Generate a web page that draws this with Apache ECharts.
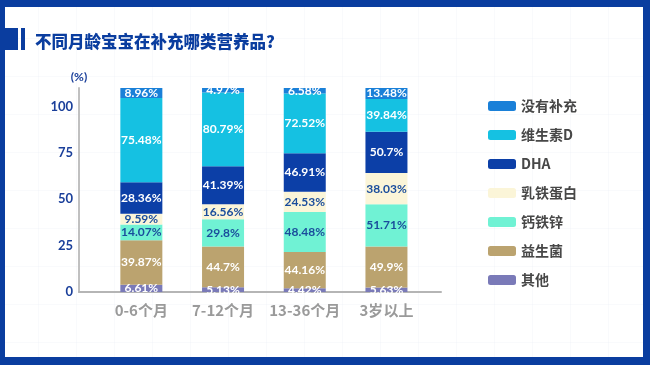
<!DOCTYPE html>
<html>
<head>
<meta charset="utf-8">
<script src="https://cdn.jsdelivr.net/npm/echarts@6/dist/echarts.min.js"></script>
<style>
html,body{margin:0;padding:0;background:#fff;}
#wrap{position:relative;width:650px;height:365px;overflow:hidden;
  background-color:#fff;
  background-image:linear-gradient(to right, rgba(225,230,240,0.2) 1px, transparent 1px),
                   linear-gradient(to bottom, rgba(225,230,240,0.2) 1px, transparent 1px);
  background-size:38px 38px;}
#chart{position:absolute;left:0;top:0;width:650px;height:365px;}
#frame{position:absolute;left:0;top:0;width:650px;height:365px;box-sizing:border-box;
  border-style:solid;border-color:#0a3d9f;border-width:7px 7px 8px 5px;pointer-events:none;}
</style>
</head>
<body>
<div id="wrap"><div id="chart"></div><div id="frame"></div></div>
<script>
// ---- data ----
const categories = ['0-6个月', '7-12个月', '13-36个月', '3岁以上'];
const seriesNames = ['其他', '益生菌', '钙铁锌', '乳铁蛋白', 'DHA', '维生素D', '没有补充'];
const other      = [6.61, 5.13, 4.42, 5.63];
const probiotic  = [39.87, 44.7, 44.16, 49.9];
const calcium    = [14.07, 29.8, 48.48, 51.71];
const lactoferrin= [9.59, 16.56, 24.53, 38.03];
const dha        = [28.36, 41.39, 46.91, 50.7];
const vitaminD   = [75.48, 80.79, 72.52, 39.84];
const none       = [8.96, 4.97, 6.58, 13.48];
const yTicks = [0, 25, 50, 75, 100];

const rawValues = [other, probiotic, calcium, lactoferrin, dha, vitaminD, none];
const colors = ['#7a7ab8', '#bba36f', '#70f2d4', '#fbf5d8', '#0c3fa7', '#15c1e2', '#1a80d8'];
const labelColors = ['#ffffff', '#ffffff', '#1a4d9c', '#1a4d9c', '#ffffff', '#ffffff', '#ffffff'];
const AXIS_MAX = 110; // bars are normalised to fill the plot height

const totals = categories.map((c, i) => rawValues.reduce((s, arr) => s + arr[i], 0));

const series = rawValues.map((arr, k) => ({
  name: seriesNames[k],
  type: 'bar',
  stack: 'all',
  barWidth: 42,
  xAxisIndex: 0,
  yAxisIndex: 0,
  itemStyle: { color: colors[k] },
  label: {
    show: true,
    position: 'inside',
    color: labelColors[k],
    fontSize: 12,
    fontWeight: 'bold',
    fontFamily: 'Lato, sans-serif',
    formatter: p => arr[p.dataIndex] + '%'
  },
  data: arr.map((v, i) => v / totals[i] * AXIS_MAX)
}));

const chart = echarts.init(document.getElementById('chart'), null, { renderer: 'canvas' });
chart.setOption({
  animation: false,
  title: {
    text: '不同月龄宝宝在补充哪类营养品?',
    left: 30, top: 28,
    textStyle: { color: '#0a3d9f', fontSize: 16.5, fontWeight: 900, fontFamily: '"Noto Sans CJK SC", sans-serif' }
  },
  graphic: [
    { type: 'rect', shape: { x: 5, y: 28, width: 13, height: 22 }, style: { fill: '#0a3d9f' } },
    { type: 'rect', shape: { x: 21, y: 28, width: 4, height: 22 }, style: { fill: '#0a3d9f' } }
  ],
  legend: {
    orient: 'vertical',
    left: 488, top: 99,
    padding: 0,
    itemWidth: 28, itemHeight: 10,
    itemGap: 15,
    icon: 'roundRect',
    data: seriesNames.slice().reverse(),
    textStyle: { color: '#474747', fontSize: 14, fontWeight: 'bold', fontFamily: '"Noto Sans CJK SC", sans-serif' }
  },
  grid: [
    { left: 100.5, right: 222.7, top: 88, bottom: 73 },
    { left: 79, right: 209, top: 88, bottom: 73 }
  ],
  xAxis: [
    {
      type: 'category', gridIndex: 0, data: categories,
      axisLine: { show: false }, axisTick: { show: false },
      axisLabel: { interval: 0, color: '#9a9a9a', fontSize: 15, fontWeight: 'bold', margin: 11, fontFamily: '"Noto Sans CJK SC", sans-serif' }
    },
    {
      type: 'value', gridIndex: 1, min: 0, max: 1,
      axisLine: { show: true, lineStyle: { color: '#b5b5b5', width: 2 } },
      axisTick: { show: false }, axisLabel: { show: false }, splitLine: { show: false }
    }
  ],
  yAxis: [
    {
      type: 'value', gridIndex: 0, min: 0, max: AXIS_MAX,
      show: false, splitLine: { show: false }
    },
    {
      type: 'value', gridIndex: 1, min: yTicks[0], max: AXIS_MAX, interval: 25,
      name: '(%)', nameLocation: 'end', nameGap: 5,
      nameTextStyle: { color: '#1a3f9a', fontSize: 12, fontWeight: 'bold', fontFamily: 'Lato, sans-serif' },
      axisLine: { show: true, lineStyle: { color: '#c0c0c0', width: 2 } },
      axisTick: { show: false },
      splitLine: { show: false },
      axisLabel: {
        color: '#1a3f9a', fontSize: 13, fontWeight: 'bold', margin: 6,
        fontFamily: 'Lato, sans-serif', padding: [0, 0, 8, 0],
        showMaxLabel: false,
        formatter: v => (yTicks.indexOf(v) >= 0 ? String(v) : '')
      }
    }
  ],
  series: series
});
</script>
</body>
</html>
